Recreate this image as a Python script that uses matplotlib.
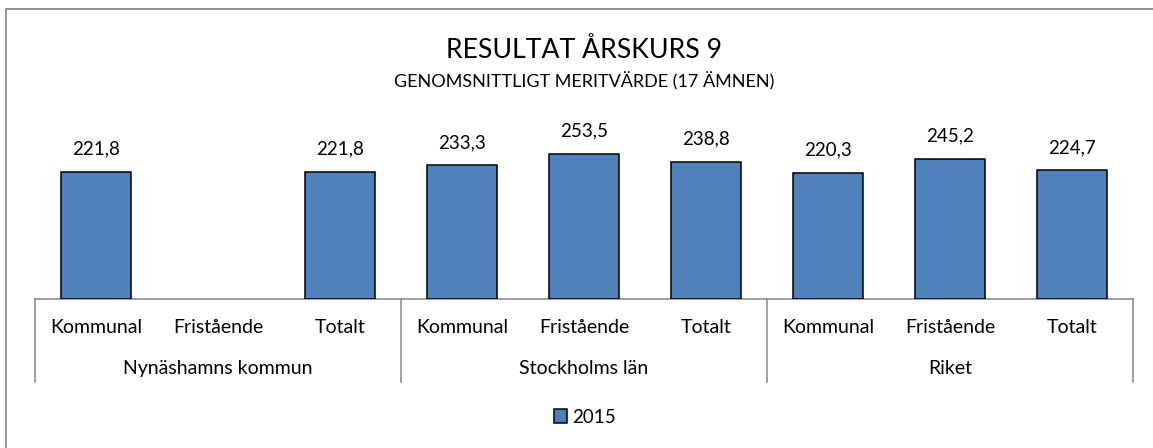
import numpy as np
import matplotlib
matplotlib.use("Agg")
import matplotlib.pyplot as plt
from matplotlib.lines import Line2D
from matplotlib.patches import Patch
import matplotlib.transforms as mtransforms

plt.rcParams['font.family'] = ['Lato', 'DejaVu Sans']

groups = ["Nynäshamns kommun", "Stockholms län", "Riket"]
categories = ["Kommunal", "Fristående", "Totalt"]
values_2015 = [221.8, np.nan, 221.8, 233.3, 253.5, 238.8, 220.3, 245.2, 224.7]
series_name = "2015"
title = "RESULTAT ÅRSKURS 9"
subtitle = "GENOMSNITTLIGT MERITVÄRDE (17 ÄMNEN)"

W, H = 1153, 448
fig = plt.figure(figsize=(W / 100, H / 100), dpi=100)

ax_left, ax_right = 35, 1133
ax_bottom_px, ax_top_px = 299, 127.2
ax = fig.add_axes([ax_left / W, 1 - ax_bottom_px / H,
                   (ax_right - ax_left) / W, (ax_bottom_px - ax_top_px) / H])

bar_color = "#4F81BD"
x = np.arange(len(values_2015))
bars = ax.bar(x, values_2015, width=0.574, color=bar_color,
              edgecolor="black", linewidth=1.1, zorder=3)

ax.set_xlim(-0.5, len(values_2015) - 0.5)
ax.set_ylim(0, 300)
for s in ["top", "right", "left"]:
    ax.spines[s].set_visible(False)
ax.spines["bottom"].set_color("#868686")
ax.spines["bottom"].set_linewidth(1.1)
ax.set_yticks([])
ax.set_xticks([])

for xi, v in zip(x, values_2015):
    if np.isnan(v):
        continue
    ax.annotate(f"{v:.1f}".replace(".", ","), (xi, v), xytext=(0, 16.5),
                textcoords="offset points", ha="center", va="center",
                fontsize=13.5, color="black")

trans = mtransforms.blended_transform_factory(ax.transData, ax.transAxes)
axh = ax_bottom_px - ax_top_px
cat_y = -(327 - ax_bottom_px) / axh
grp_y = -(368 - ax_bottom_px) / axh
div_y = -(382 - ax_bottom_px) / axh

n_cat = len(categories)
for gi, g in enumerate(groups):
    for ci, c in enumerate(categories):
        xi = gi * n_cat + ci
        ax.text(xi, cat_y, c, transform=trans, ha="center", va="center",
                fontsize=14, color="black")
    ax.text(gi * n_cat + (n_cat - 1) / 2, grp_y, g, transform=trans,
            ha="center", va="center", fontsize=14, color="black")
for b in range(len(groups) + 1):
    xb = b * n_cat - 0.5
    ax.add_line(Line2D([xb, xb], [0, div_y], transform=trans, color="#868686",
                       linewidth=1.1, clip_on=False))

cx = (ax_left + ax_right) / 2 / W
fig.text(cx, 1 - 50 / H, title, ha="center", va="center", fontsize=19.2)
fig.text(cx, 1 - 81 / H, subtitle, ha="center", va="center", fontsize=13)

handle = Patch(facecolor=bar_color, edgecolor="black", linewidth=1.1)
fig.legend([handle], [series_name], loc="center", bbox_to_anchor=(585 / W, 1 - 417 / H),
           frameon=False, fontsize=13.5, handlelength=0.7, handleheight=0.7,
           handletextpad=0.3)

# outer chart border (left and top visible)
fig.add_artist(Line2D([6 / W, 6 / W, 1.0], [0.0, 1 - 9 / H, 1 - 9 / H],
                      transform=fig.transFigure, color="#898989", linewidth=1.3))

fig.savefig("out.png", dpi=100)
